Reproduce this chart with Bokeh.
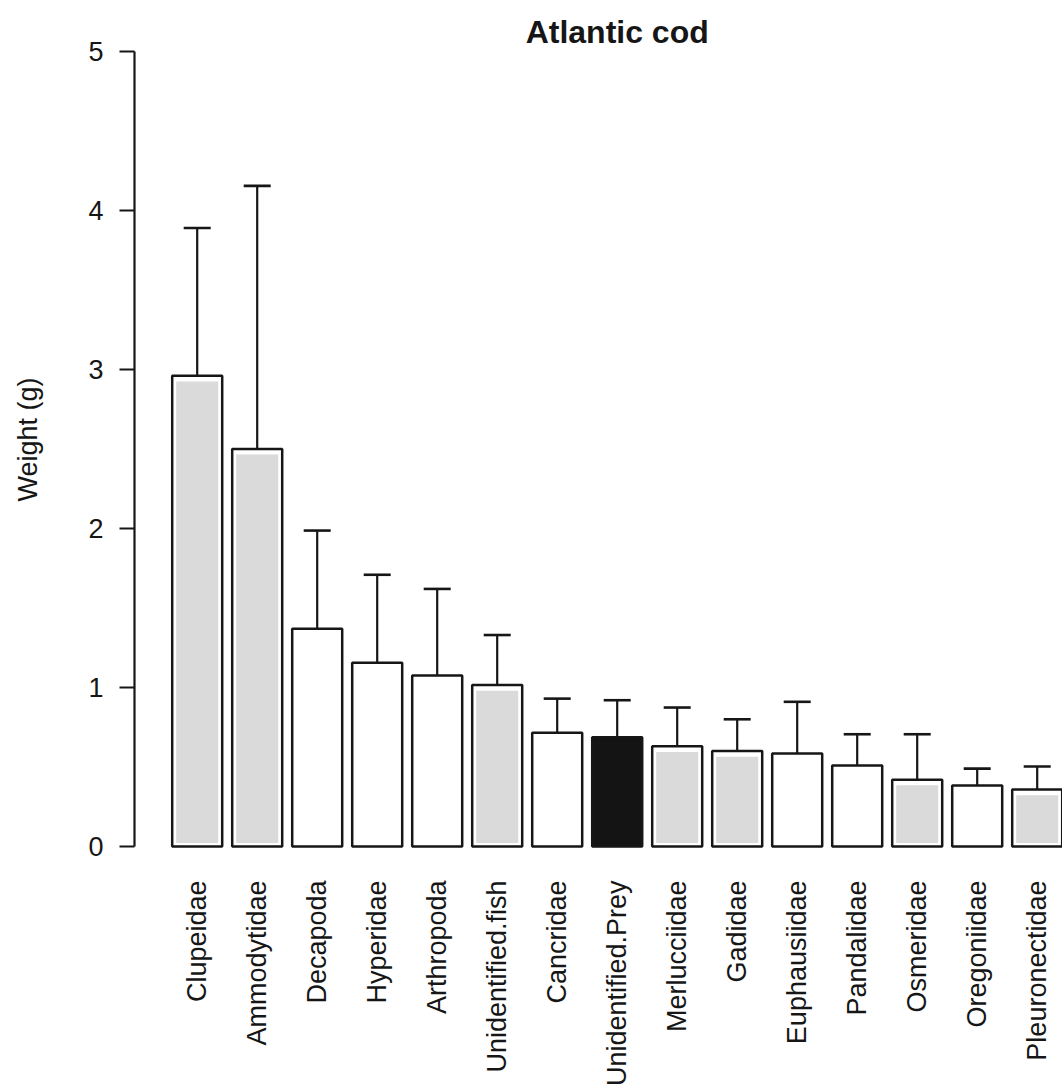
import math
from bokeh.plotting import figure
from bokeh.models import (ColumnDataSource, FixedTicker, Whisker, TeeHead, Label, Range1d)
from bokeh.embed import file_html
from bokeh.resources import INLINE

# ---- data ----
categories = ["Clupeidae", "Ammodytidae", "Decapoda", "Hyperidae", "Arthropoda",
              "Unidentified.fish", "Cancridae", "Unidentified.Prey", "Merlucciidae",
              "Gadidae", "Euphausiidae", "Pandalidae", "Osmeridae", "Oregoniidae",
              "Pleuronectidae"]
mean_weight = [2.96, 2.50, 1.37, 1.155, 1.075, 1.015, 0.715, 0.687, 0.63,
               0.60, 0.585, 0.51, 0.42, 0.384, 0.358]
upper_err = [3.89, 4.155, 1.987, 1.709, 1.62, 1.33, 0.93, 0.92, 0.874,
             0.80, 0.91, 0.706, 0.706, 0.49, 0.503]
prey_group = ["grey", "grey", "white", "white", "white", "grey", "white", "black",
              "grey", "grey", "white", "white", "grey", "white", "grey"]
y_ticks = [0, 1, 2, 3, 4, 5]
title_text = "Atlantic cod"
y_label = "Weight (g)"

# ---- layout (R barplot style: width 1, space 0.2 -> scaled by 10) ----
BAR_W = 10
PITCH = 12
centers = [7 + PITCH * i for i in range(len(categories))]
base_fill = {"grey": "#ffffff", "white": "#ffffff", "black": "#141414"}

src = ColumnDataSource(dict(
    x=centers, top=mean_weight, upper=upper_err,
    fill=[base_fill[g] for g in prey_group],
))
grey_idx = [i for i, g in enumerate(prey_group) if g == "grey"]
src_grey = ColumnDataSource(dict(
    x=[centers[i] for i in grey_idx],
    top=[mean_weight[i] - 0.035 for i in grey_idx],
))

PX_PER_X = 5.0
FRAME_W = 928
FRAME_H = 878
x_start = 2 - (171.7 - 134) / PX_PER_X
x_end = x_start + FRAME_W / PX_PER_X
y_start = -(878 - 846) / 159.0
y_end = 846 / 159.0

p = figure(frame_width=FRAME_W, frame_height=FRAME_H,
           x_range=Range1d(x_start, x_end), y_range=Range1d(y_start, y_end),
           output_backend="svg", toolbar_location=None,
           min_border_left=134, min_border_right=0, min_border_top=0,
           min_border_bottom=211)
p.background_fill_color = "white"
p.border_fill_color = "white"
p.outline_line_color = None
p.xgrid.visible = False
p.ygrid.visible = False

# white/black base bars
p.vbar(x="x", top="top", bottom=0, width=BAR_W, source=src,
       fill_color="fill", line_color=None)
# grey stipple fill, slightly inset like the printed texture
p.vbar(x="x", top="top", bottom=0.022, width=BAR_W * 0.84, source=src_grey,
       fill_color="#dadada", line_color=None)
# outlines
p.vbar(x="x", top="top", bottom=0, width=BAR_W, source=src,
       fill_color=None, line_color="#161616", line_width=2.5)

# upper error bars
wh = Whisker(base="x", lower="top", upper="upper", source=src, dimension="height",
             line_color="#161616", line_width=2.2,
             upper_head=TeeHead(size=27, line_color="#161616", line_width=2.6),
             lower_head=None)
p.add_layout(wh)

# y axis
ya = p.yaxis[0]
ya.ticker = FixedTicker(ticks=y_ticks)
ya.bounds = (0, 5)
ya.axis_line_width = 2.2
ya.axis_line_color = "#161616"
ya.major_tick_line_width = 2.2
ya.major_tick_line_color = "#161616"
ya.major_tick_out = 15
ya.major_tick_in = 0
ya.minor_tick_line_color = None
ya.major_label_standoff = 16
ya.major_label_text_font = "Liberation Sans"
ya.major_label_text_font_size = "27px"
ya.major_label_text_color = "#161616"
ya.major_label_orientation = "horizontal"
ya.axis_label = y_label
ya.axis_label_text_font = "Liberation Sans"
ya.axis_label_text_font_size = "27px"
ya.axis_label_text_font_style = "normal"
ya.axis_label_text_color = "#161616"
ya.axis_label_standoff = 42

# x axis with category names
xa = p.xaxis[0]
xa.ticker = FixedTicker(ticks=centers)
xa.major_label_overrides = {c: n for c, n in zip(centers, categories)}
xa.axis_line_color = None
xa.major_tick_line_color = None
xa.minor_tick_line_color = None
xa.major_tick_out = 0
xa.major_tick_in = 0
xa.major_label_standoff = 2
xa.major_label_orientation = math.pi / 2
xa.major_label_text_font = "Liberation Sans"
xa.major_label_text_font_size = "27px"
xa.major_label_text_color = "#161616"

# title
title_x = (centers[0] - BAR_W / 2 + centers[-1] + BAR_W / 2) / 2
p.add_layout(Label(x=title_x, y=5.121, text=title_text, text_align="center",
                   text_baseline="alphabetic", text_font="Liberation Sans",
                   text_font_size="32px", text_font_style="bold",
                   text_color="#161616"))

open("out.html", "w").write(file_html(p, INLINE))
